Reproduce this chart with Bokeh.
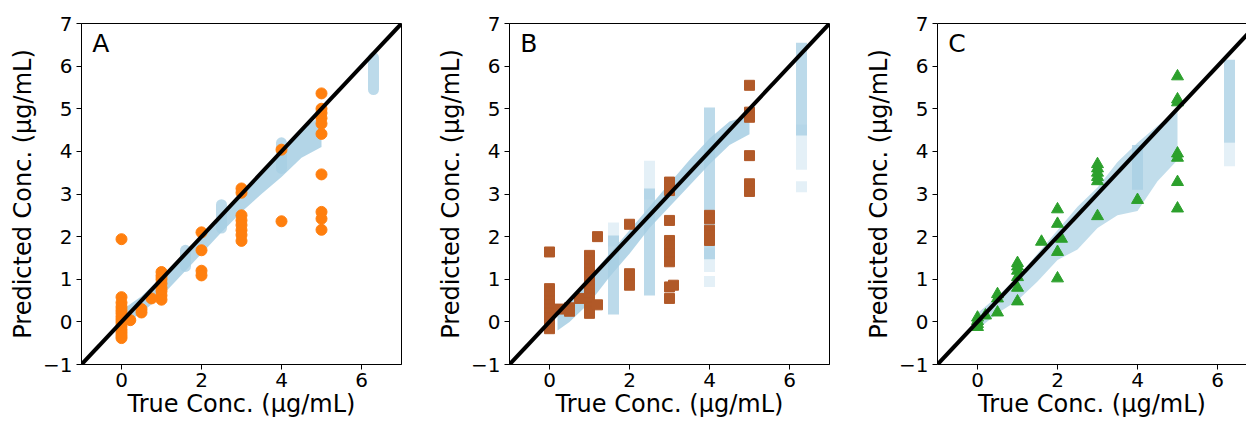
from bokeh.plotting import figure
from bokeh.layouts import row
from bokeh.models import FixedTicker, Label, LinearAxis
from bokeh.embed import file_html
from bokeh.resources import INLINE

# ---------------- data ----------------
diag = [-1, 7]
x_ticks = [0, 2, 4, 6]
y_ticks = [-1, 0, 1, 2, 3, 4, 5, 6, 7]

# Panel A (circles)
a_true = [0]*14 + [0.22, 0.5, 0.5, 0.75] + [1]*8 + [2]*4 + [3]*8 + [4]*2 + [5]*10
a_pred = [1.94, 0.58, 0.45, 0.35, 0.27, 0.2, 0.12, 0.05, -0.02, -0.1, -0.18, -0.25, -0.32, -0.38,
          0.04, 0.3, 0.22, 0.55,
          1.17, 1.08, 1.0, 0.9, 0.8, 0.72, 0.62, 0.52,
          2.1, 1.68, 1.2, 1.09,
          3.13, 3.03, 2.5, 2.38, 2.27, 2.15, 2.04, 1.9,
          4.04, 2.36,
          5.36, 5.0, 4.9, 4.78, 4.65, 4.41, 3.46, 2.58, 2.42, 2.16]
a_cloud_x = [0, 0.5, 1, 1.5, 2, 2.5, 3, 3.5, 4, 4.5, 5]
a_cloud_lo = [-0.12, 0.22, 0.6, 1.1, 1.6, 2.1, 2.58, 3.0, 3.4, 3.85, 4.1]
a_cloud_hi = [0.27, 0.6, 1.05, 1.55, 2.05, 2.55, 3.05, 3.55, 4.02, 4.5, 4.85]
a_stripe_x = [1.6, 2.5, 4.0, 6.3]
a_stripe_lo = [1.3, 2.2, 3.6, 5.45]
a_stripe_hi = [1.68, 2.75, 4.2, 6.2]
a_faint_x = []
a_faint_lo = []
a_faint_hi = []

# Panel B (squares)
b_true = [0]*12 + [0.25, 0.5, 0.5, 0.75] + [1]*14 + [1.2, 1.2] + [2]*4 + [3]*12 + [3.1] + [4]*5 + [5]*7
b_pred = [1.64, 0.78, 0.7, 0.6, 0.5, 0.4, 0.3, 0.2, 0.1, 0.0, -0.08, -0.16,
          0.3, 0.33, 0.25, 0.55,
          1.56, 1.43, 1.25, 1.15, 1.05, 0.95, 0.85, 0.75, 0.65, 0.55, 0.45, 0.35, 0.25, 0.2,
          2.0, 0.4,
          2.29, 1.13, 1.0, 0.86,
          3.28, 3.18, 3.08, 2.38, 1.91, 1.8, 1.7, 1.6, 1.5, 1.41, 0.82, 0.55,
          0.86,
          2.5, 2.42, 2.15, 2.03, 1.91,
          5.55, 4.92, 4.8, 3.9, 3.24, 3.12, 3.06]
b_cloud_x = [0.2, 0.5, 1, 1.5, 2, 2.5, 3, 3.5, 4, 4.5, 5]
b_cloud_lo = [-0.2, 0.0, 0.45, 1.05, 1.6, 2.2, 2.7, 3.2, 3.7, 4.15, 4.4]
b_cloud_hi = [0.27, 0.45, 1.05, 1.6, 2.15, 2.7, 3.25, 3.8, 4.3, 4.7, 4.85]
b_stripe_x = [1.6, 2.5, 4.0, 6.3]
b_stripe_lo = [0.3, 0.75, 1.6, 4.5]
b_stripe_hi = [1.9, 3.0, 4.9, 6.42]
b_faint_x = [1.6, 2.5, 4.0, 4.0, 6.3, 6.3]
b_faint_lo = [1.9, 3.0, 0.95, 1.3, 3.7, 3.17]
b_faint_hi = [2.2, 3.65, 0.95, 1.6, 4.5, 3.17]

# Panel C (triangles)
c_true = [0]*4 + [0.2, 0.5, 0.5, 0.5] + [1]*6 + [1.6] + [2]*4 + [2.1] + [3]*6 + [4] + [5]*7
c_pred = [0.1, 0.02, -0.05, -0.12,
          0.15, 0.65, 0.55, 0.22,
          1.38, 1.3, 1.2, 1.05, 0.8, 0.48,
          1.88,
          2.64, 2.3, 1.64, 1.02,
          1.95,
          3.7, 3.6, 3.5, 3.4, 3.3, 2.48,
          2.86,
          5.76, 5.22, 5.15, 3.95, 3.85, 3.28, 2.66]
c_cloud_x = [0, 0.5, 1, 1.5, 2, 2.5, 3, 3.5, 4, 4.5, 5]
c_cloud_lo = [-0.18, 0.2, 0.5, 0.95, 1.45, 1.7, 2.2, 2.5, 2.6, 3.3, 3.8]
c_cloud_hi = [0.2, 0.6, 1.05, 1.6, 2.15, 2.7, 3.15, 3.75, 4.2, 4.6, 4.95]
c_stripe_x = [4.0, 6.3]
c_stripe_lo = [3.1, 4.2]
c_stripe_hi = [4.15, 6.15]
c_faint_x = [6.3]
c_faint_lo = [3.65]
c_faint_hi = [4.2]

CLOUD = "#a6cee3"
FONT = "DejaVu Sans"


def style_axis(ax):
    ax.major_tick_out = 5
    ax.major_tick_in = 0
    ax.minor_tick_line_color = None
    ax.major_tick_line_color = "black"
    ax.axis_line_color = "black"
    ax.major_label_text_font = FONT
    ax.major_label_text_font_size = "20px"
    ax.major_label_text_color = "black"
    ax.axis_label_text_font = FONT
    ax.axis_label_text_font_size = "24px"
    ax.axis_label_text_font_style = "normal"
    ax.axis_label_text_color = "black"


def panel(letter, px, py, marker, color, msize, cx, clo, chi, sx, slo, shi,
          fx, flo, fhi, cap, cloud_alpha, x_end, fw, border_right, outline):
    p = figure(frame_width=fw, frame_height=341, x_range=(-1, x_end), y_range=(-1, 7),
               output_backend="svg", toolbar_location=None,
               min_border_left=81, min_border_right=border_right,
               min_border_top=23, min_border_bottom=52)
    p.grid.visible = False
    p.background_fill_color = "white"
    p.border_fill_color = "white"

    # cloud of predictions
    p.varea(x=cx, y1=clo, y2=chi, fill_color=CLOUD, fill_alpha=cloud_alpha)
    p.segment(x0=sx, y0=slo, x1=sx, y1=shi, line_color=CLOUD, line_width=11,
              line_alpha=0.75, line_cap=cap)
    if fx:
        p.segment(x0=fx, y0=flo, x1=fx, y1=fhi, line_color=CLOUD, line_width=11,
                  line_alpha=0.3, line_cap=cap)

    # experimental points
    p.scatter(px, py, marker=marker, size=msize, fill_color=color, line_color=color)

    # identity line
    p.line(diag, diag, line_color="black", line_width=4)

    xax = p.below[0]
    yax = p.left[0]
    style_axis(xax)
    style_axis(yax)
    xax.ticker = FixedTicker(ticks=x_ticks)
    yax.ticker = FixedTicker(ticks=y_ticks)
    yax.major_label_overrides = {-1: "\u22121"}
    xax.axis_label = "True Conc. (\u03bcg/mL)"
    yax.axis_label = "Predicted Conc. (\u03bcg/mL)"
    xax.major_label_standoff = 3
    xax.axis_label_standoff = 0
    yax.major_label_standoff = 4
    yax.axis_label_standoff = 3

    if outline:
        p.outline_line_color = "black"
        p.outline_line_alpha = 1
        p.outline_line_width = 1
    else:
        p.outline_line_color = None
        top = LinearAxis(ticker=FixedTicker(ticks=[]), major_tick_line_color=None,
                         minor_tick_line_color=None, major_label_text_font_size="0px",
                         major_tick_out=0, major_label_standoff=0,
                         axis_line_color="black", axis_line_width=1)
        p.add_layout(top, "above")

    p.add_layout(Label(x=-0.73, y=6.53, text=letter, text_font=FONT,
                       text_font_size="25px", text_color="black",
                       text_baseline="alphabetic"))
    return p


pa = panel("A", a_true, a_pred, "circle", "#ff7f0e", 11, a_cloud_x, a_cloud_lo, a_cloud_hi,
           a_stripe_x, a_stripe_lo, a_stripe_hi, a_faint_x, a_faint_lo, a_faint_hi,
           "round", 0.85, 7, 320, 27, True)
pb = panel("B", b_true, b_pred, "square", "#b15928", 10, b_cloud_x, b_cloud_lo, b_cloud_hi,
           b_stripe_x, b_stripe_lo, b_stripe_hi, b_faint_x, b_faint_lo, b_faint_hi,
           "square", 0.85, 7, 320, 27, True)
pc = panel("C", c_true, c_pred, "triangle", "#2ca02c", 12, c_cloud_x, c_cloud_lo, c_cloud_hi,
           c_stripe_x, c_stripe_lo, c_stripe_hi, c_faint_x, c_faint_lo, c_faint_hi,
           "butt", 0.7, 6.725, 309, 0, False)

layout = row(pa, pb, pc)
open("out.html", "w").write(file_html(layout, INLINE))
